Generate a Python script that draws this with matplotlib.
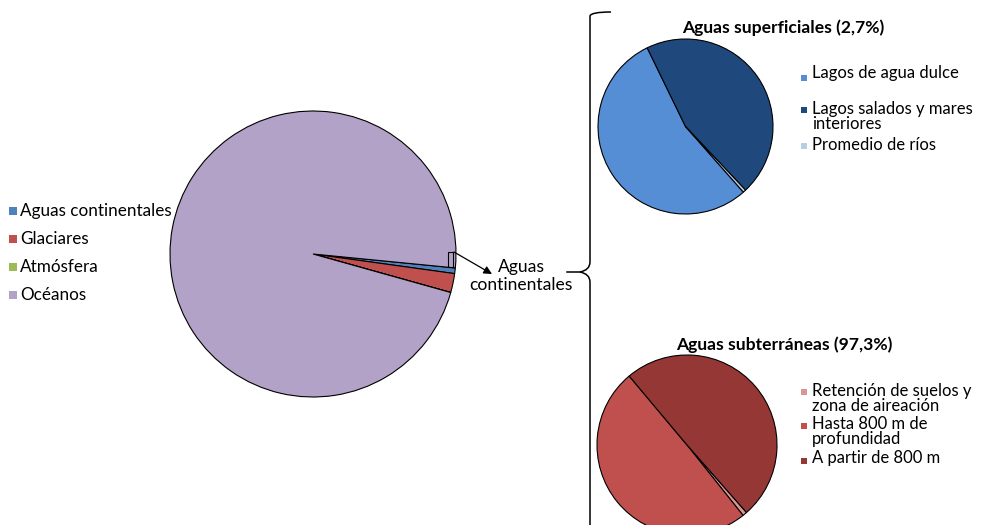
import matplotlib.pyplot as plt
from matplotlib.patches import Rectangle, PathPatch, FancyArrowPatch
from matplotlib.path import Path
from matplotlib.transforms import Affine2D

plt.rcParams['font.family'] = ['Lato', 'DejaVu Sans']

W, H = 984, 525

# main pie: distribution of water on Earth (km3)
main_labels = ['Aguas continentales', 'Glaciares', 'Atmósfera', 'Océanos']
main_values = [8625250, 29200000, 12900, 1320000000]
main_colors = ['#4F81BD', '#C0504D', '#9BBB59', '#B3A2C7']

# surface waters
sup_title = 'Aguas superficiales (2,7%)'
sup_labels = ['Lagos de agua dulce', 'Lagos salados y mares\ninteriores', 'Promedio de ríos']
sup_values = [125000, 104000, 1250]
sup_colors = ['#558ED5', '#1F497D', '#B9CDE5']

# groundwater
sub_title = 'Aguas subterráneas (97,3%)'
sub_labels = ['Retención de suelos y\nzona de aireación', 'Hasta 800 m de\nprofundidad', 'A partir de 800 m']
sub_values = [67000, 4164000, 4164000]
sub_colors = ['#D99694', '#C0504D', '#953735']

fig = plt.figure(figsize=(W / 100, H / 100), dpi=100)
# pixel coords (origin top-left) -> figure
pix = Affine2D().scale(1 / W, -1 / H).translate(0, 1) + fig.transFigure


def pie_axes(cx, cy, r):
    return fig.add_axes([(cx - r) / W, 1 - (cy + r) / H, 2 * r / W, 2 * r / H])


def draw_pie(ax, values, colors, start):
    wedges, _ = ax.pie(values, colors=colors, startangle=start, counterclock=False,
                       wedgeprops=dict(edgecolor='black', linewidth=0.8))
    for w in wedges:
        w.set_clip_on(False)
    ax.set_xlim(-1, 1)
    ax.set_ylim(-1, 1)
    ax.set_axis_off()


def draw_legend(labels, colors, x, ys, sq, size=11, fs=12):
    for lab, col, y in zip(labels, colors, ys):
        fig.patches.append(Rectangle((x, y[1] - size / 2), size, size, facecolor=col,
                                     edgecolor='none', transform=pix))
        fig.text((x + size + sq) / W, 1 - y[0] / H, lab, fontsize=fs, va='center',
                 ha='left', linespacing=0.92)


ax_main = pie_axes(313, 254, 143)
draw_pie(ax_main, main_values, main_colors, -5.6)

ax_sup = pie_axes(685.5, 126.5, 87.5)
draw_pie(ax_sup, sup_values, sup_colors, -48.6)

ax_sub = pie_axes(687, 445, 90)
draw_pie(ax_sub, sub_values, sub_colors, -48.6)

# legends
draw_legend(main_labels, main_colors, 9, [(211, 210.5), (239, 239), (266.5, 266.5), (294.5, 294.5)], 3,
            size=8, fs=12.3)
draw_legend(sup_labels, sup_colors, 801, [(73, 77.5), (116.5, 110), (145, 145.5)], 5, size=6)
draw_legend(sub_labels, sub_colors, 801, [(398.5, 391.5), (431.5, 426), (458, 460.5)], 5, size=6)

fig.text(783.5 / W, 1 - 28 / H, sup_title, fontsize=12.6, fontweight='bold', ha='center', va='center')
fig.text(784.5 / W, 1 - 345 / H, sub_title, fontsize=12.6, fontweight='bold', ha='center', va='center')

# callout for the continental waters slice
fig.patches.append(Rectangle((448, 252), 5, 15, facecolor='none', edgecolor='black',
                             linewidth=0.8, transform=pix))
fig.patches.append(FancyArrowPatch((454, 252), (492, 274), arrowstyle='-|>', mutation_scale=12,
                                   color='black', linewidth=0.9, shrinkA=0, shrinkB=0, transform=pix))
fig.text(521 / W, 1 - 276 / H, 'Aguas\ncontinentales', fontsize=12.6, ha='center', va='center',
         linespacing=1.1)

# curly brace
verts = [(611, 12), (591, 12), (590, 16), (590, 20),
         (590, 262), (590, 270), (580, 272),
         (590, 274), (590, 282), (590, 540)]
codes = [Path.MOVETO, Path.CURVE3, Path.CURVE3, Path.LINETO,
         Path.LINETO, Path.CURVE3, Path.CURVE3,
         Path.CURVE3, Path.CURVE3, Path.LINETO]
fig.patches.append(PathPatch(Path(verts, codes), facecolor='none', edgecolor='black',
                             linewidth=1.1, transform=pix))
fig.lines.append(plt.Line2D([567, 580], [272, 272], color='black', linewidth=1.1, transform=pix))

fig.savefig('out.png', dpi=100)
